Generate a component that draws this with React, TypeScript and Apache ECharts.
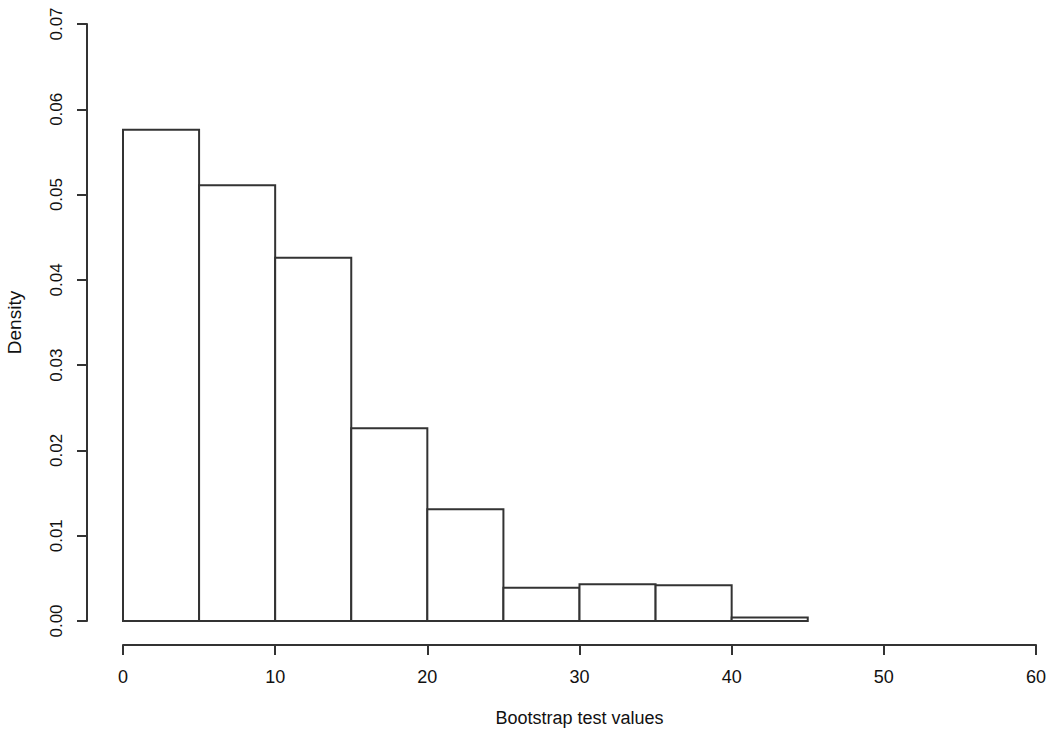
import React, { useEffect, useRef } from "react";
import * as echarts from "echarts";

// Histogram bins (Bootstrap test values) and their densities
const binStarts = [0, 5, 10, 15, 20, 25, 30, 35, 40];
const binEnds = [5, 10, 15, 20, 25, 30, 35, 40, 45];
const densities = [0.0576, 0.0511, 0.0426, 0.0226, 0.0131, 0.0039, 0.0043, 0.0042, 0.0004];

const xTitle = "Bootstrap test values";
const yTitle = "Density";

const FONT = '"Liberation Sans", Arial, Helvetica, sans-serif';
const INK = "#333333";

export default function App() {
  const ref = useRef<HTMLDivElement | null>(null);

  useEffect(() => {
    if (!ref.current) return;
    const chart = echarts.init(ref.current, undefined, { renderer: "svg" });
    const data = binStarts.map((s, i) => [s, binEnds[i], densities[i]]);

    chart.setOption({
      animation: false,
      backgroundColor: "#ffffff",
      grid: {
        left: 123,
        right: 14,
        top: 24,
        bottom: 114,
        containLabel: false,
        outerBoundsMode: "none",
      },
      xAxis: {
        type: "value",
        min: 0,
        max: 60,
        interval: 10,
        offset: 24,
        name: xTitle,
        nameLocation: "middle",
        nameGap: 64,
        nameTextStyle: { fontFamily: FONT, fontSize: 18, color: "#111" },
        axisLine: { show: true, onZero: false, lineStyle: { color: INK, width: 2 } },
        axisTick: { show: true, length: 10, inside: false, lineStyle: { color: INK, width: 2 } },
        axisLabel: { margin: 23, fontFamily: FONT, fontSize: 18, color: "#111" },
        splitLine: { show: false },
      },
      yAxis: {
        type: "value",
        min: 0,
        max: 0.07,
        interval: 0.01,
        offset: 36,
        name: yTitle,
        nameLocation: "middle",
        nameRotate: 90,
        nameGap: 63,
        nameTextStyle: { fontFamily: FONT, fontSize: 19, color: "#111" },
        axisLine: { show: true, onZero: false, lineStyle: { color: INK, width: 2 } },
        axisTick: { show: true, length: 10, inside: false, lineStyle: { color: INK, width: 2 } },
        axisLabel: {
          rotate: 90,
          margin: 22,
          fontFamily: FONT,
          fontSize: 17,
          color: "#111",
          formatter: (v: number) => v.toFixed(2),
        },
        splitLine: { show: false },
      },
      series: [
        {
          type: "custom",
          data,
          encode: { x: [0, 1], y: 2 },
          renderItem: (_params: any, api: any) => {
            const x0 = api.value(0);
            const x1 = api.value(1);
            const y = api.value(2);
            const p0 = api.coord([x0, y]);
            const p1 = api.coord([x1, 0]);
            return {
              type: "rect",
              shape: { x: p0[0], y: p0[1], width: p1[0] - p0[0], height: p1[1] - p0[1] },
              style: { fill: "#ffffff", stroke: INK, lineWidth: 2 },
            };
          },
        },
      ],
    });

    return () => chart.dispose();
  }, []);

  return (
    <div
      ref={ref}
      style={{ position: "fixed", left: 0, top: 0, width: 1050, height: 735, background: "#fff" }}
    />
  );
}
